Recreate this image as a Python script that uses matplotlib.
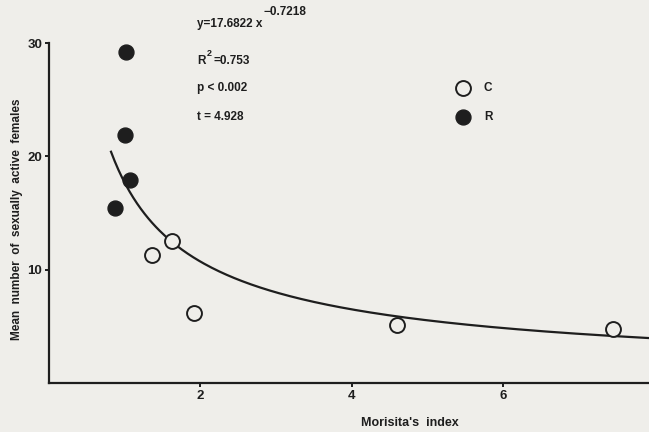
import numpy as np
import matplotlib.pyplot as plt

# datos
r_x = [1.02, 1.00, 1.07, 0.87]
r_y = [29.2, 21.9, 17.9, 15.4]
c_x = [1.36, 1.63, 1.92, 4.60, 7.46]
c_y = [11.3, 12.5, 6.2, 5.15, 4.8]

# ajuste potencial
a = 17.6822
b = -0.7218
x_ini, x_fin = 0.82, 8.2

xticks = [2, 4, 6]
yticks = [10, 20, 30]

W, H = 649, 432
bg = '#efeeea'
ink = '#1e1e1e'
fam = ['Liberation Sans', 'DejaVu Sans']

fig = plt.figure(figsize=(W / 100, H / 100), dpi=100, facecolor=bg)
ax = fig.add_axes([49 / W, 49 / H, 605 / W, 340 / H])
ax.set_facecolor(bg)

xs = np.linspace(x_ini, x_fin, 300)
ax.plot(xs, a * xs ** b, color=ink, lw=1.6, clip_on=False)

ax.scatter(r_x, r_y, s=115, color=ink, zorder=3, clip_on=False)
ax.scatter(c_x, c_y, s=115, facecolor=bg, edgecolor=ink, linewidth=1.4,
           zorder=3, clip_on=False)

ax.set_xlim(0, 8)
ax.set_ylim(0, 30)
ax.set_xticks(xticks)
ax.set_yticks(yticks)
for s in ['top', 'right']:
    ax.spines[s].set_visible(False)
for s in ['left', 'bottom']:
    ax.spines[s].set_linewidth(1.6)
    ax.spines[s].set_color(ink)
ax.tick_params(direction='out', length=3, width=1.4, colors=ink, pad=2)
for lab in ax.get_xticklabels() + ax.get_yticklabels():
    lab.set_family(fam)
    lab.set_fontweight('bold')
    lab.set_fontsize(9.5)

def txt(x, y, s, **kw):
    kw.setdefault('fontsize', 8.5)
    fig.text(x / W, 1 - y / H, s, family=fam, fontweight='bold', color=ink,
             va='center', **kw)

txt(410, 423, "Morisita's  index", ha='center', fontsize=9)
txt(17, 219, 'Mean  number  of  sexually  active  females', ha='center',
    rotation=90, fontsize=8.5)

txt(197, 24, 'y=17.6822 x')
txt(264, 12, '\u22120.7218')
txt(197, 61, 'R')
txt(207, 54, '2', fontsize=6.5)
txt(213, 61, '=0.753')
txt(197, 88, 'p < 0.002')
txt(197, 117, 't = 4.928')

# leyenda
lx = (463 - 49) / 605 * 8
ax.scatter([lx], [(383 - 88) / 340 * 30], s=115,
           facecolor=bg, edgecolor=ink, linewidth=1.4, clip_on=False)
ax.scatter([lx], [(383 - 117) / 340 * 30], s=115,
           color=ink, clip_on=False)
txt(484, 88, 'C')
txt(484, 117, 'R')

fig.savefig('out.png', dpi=100, facecolor=bg)
